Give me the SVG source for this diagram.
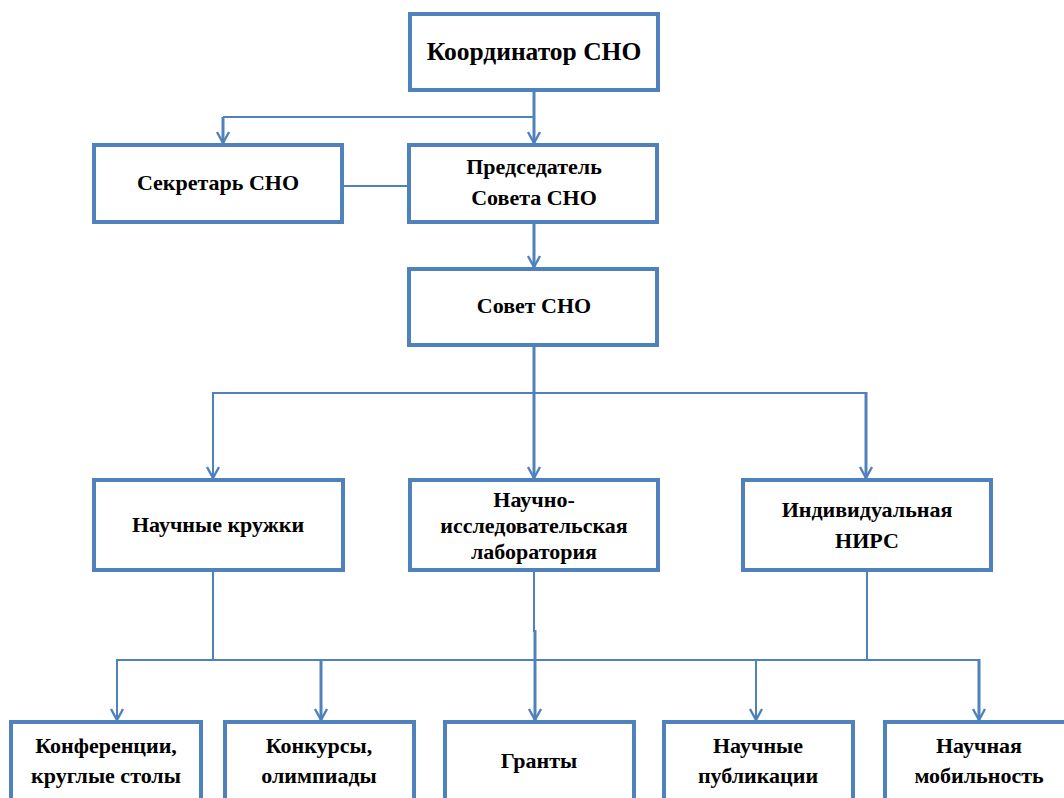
<svg xmlns="http://www.w3.org/2000/svg" width="1064" height="798" viewBox="0 0 1064 798">
<style>
  .box { fill: #ffffff; stroke: #4F81BD; stroke-width: 4; }
  .t { font-family: "Liberation Serif", "Times New Roman", serif; font-weight: bold; font-size: 22px; fill: #000; text-anchor: middle; }
  .big { font-size: 25.5px; }
  .c { fill: none; stroke: #4F81BD; stroke-width: 2; }
  .ct { fill: none; stroke: #4F81BD; stroke-width: 3; }
</style>
<defs>
  <marker id="arr" markerUnits="userSpaceOnUse" viewBox="-13 -8 14 16" refX="0" refY="0" markerWidth="14" markerHeight="16" orient="auto">
    <path d="M-11,-6 L0,0 L-11,6" fill="none" stroke="#4F81BD" stroke-width="2.4"/>
  </marker>
</defs>
<rect width="1064" height="798" fill="#ffffff"/>

<g id="connectors">
  <line class="ct" x1="534" y1="92" x2="534" y2="143" marker-end="url(#arr)"/>
  <polyline class="c" points="534,117 223,117"/>
  <line class="ct" x1="223" y1="117" x2="223" y2="143" marker-end="url(#arr)"/>
  <line class="c" x1="344" y1="186" x2="407" y2="186"/>
  <line class="ct" x1="534" y1="224" x2="534" y2="267" marker-end="url(#arr)"/>
  <line class="ct" x1="534" y1="347" x2="534" y2="478" marker-end="url(#arr)"/>
  <line class="c" x1="213" y1="393" x2="866" y2="393"/>
  <line class="c" x1="213" y1="392" x2="213" y2="478" marker-end="url(#arr)"/>
  <line class="ct" x1="866" y1="392" x2="866" y2="478" marker-end="url(#arr)"/>
  <line class="c" x1="213" y1="572" x2="213" y2="660"/>
  <line class="c" x1="867" y1="572" x2="867" y2="660"/>
  <line class="c" x1="534" y1="572" x2="534" y2="632"/>
  <line class="ct" x1="535" y1="630" x2="535" y2="720" marker-end="url(#arr)"/>
  <line class="c" x1="116" y1="660" x2="980" y2="660"/>
  <line class="c" x1="117" y1="659" x2="117" y2="720" marker-end="url(#arr)"/>
  <line class="ct" x1="321" y1="659" x2="321" y2="720" marker-end="url(#arr)"/>
  <line class="c" x1="756" y1="659" x2="756" y2="720" marker-end="url(#arr)"/>
  <line class="ct" x1="979" y1="659" x2="979" y2="720" marker-end="url(#arr)"/>
</g>

<g id="coordinator">
  <rect class="box" x="410" y="14" width="248" height="76"/>
  <text class="t big" x="534" y="60">Координатор СНО</text>
</g>
<g id="secretary">
  <rect class="box" x="94" y="145" width="248" height="77"/>
  <text class="t" x="218" y="190">Секретарь СНО</text>
</g>
<g id="chairman">
  <rect class="box" x="409" y="145" width="248" height="77"/>
  <text class="t" x="534" y="174">Председатель</text>
  <text class="t" x="534" y="205">Совета СНО</text>
</g>
<g id="council">
  <rect class="box" x="409" y="269" width="248" height="76"/>
  <text class="t" x="534" y="313">Совет СНО</text>
</g>
<g id="circles">
  <rect class="box" x="94" y="480" width="249" height="90"/>
  <text class="t" x="218" y="532">Научные кружки</text>
</g>
<g id="lab">
  <rect class="box" x="410" y="480" width="248" height="90"/>
  <text class="t" x="534" y="507">Научно-</text>
  <text class="t" x="534" y="533">исследовательская</text>
  <text class="t" x="534" y="559">лаборатория</text>
</g>
<g id="nirs">
  <rect class="box" x="743" y="480" width="248" height="90"/>
  <text class="t" x="867" y="517">Индивидуальная</text>
  <text class="t" x="867" y="548">НИРС</text>
</g>
<g id="conferences">
  <rect class="box" x="11" y="722" width="190" height="100"/>
  <text class="t" x="106" y="753">Конференции,</text>
  <text class="t" x="106" y="783">круглые столы</text>
</g>
<g id="contests">
  <rect class="box" x="225" y="722" width="189" height="100"/>
  <text class="t" x="319" y="753">Конкурсы,</text>
  <text class="t" x="319" y="783">олимпиады</text>
</g>
<g id="grants">
  <rect class="box" x="445" y="722" width="189" height="100"/>
  <text class="t" x="539" y="768">Гранты</text>
</g>
<g id="publications">
  <rect class="box" x="664" y="722" width="189" height="100"/>
  <text class="t" x="758" y="753">Научные</text>
  <text class="t" x="758" y="783">публикации</text>
</g>
<g id="mobility">
  <rect class="box" x="885" y="722" width="190" height="100"/>
  <text class="t" x="979" y="753">Научная</text>
  <text class="t" x="979" y="783">мобильность</text>
</g>
</svg>
